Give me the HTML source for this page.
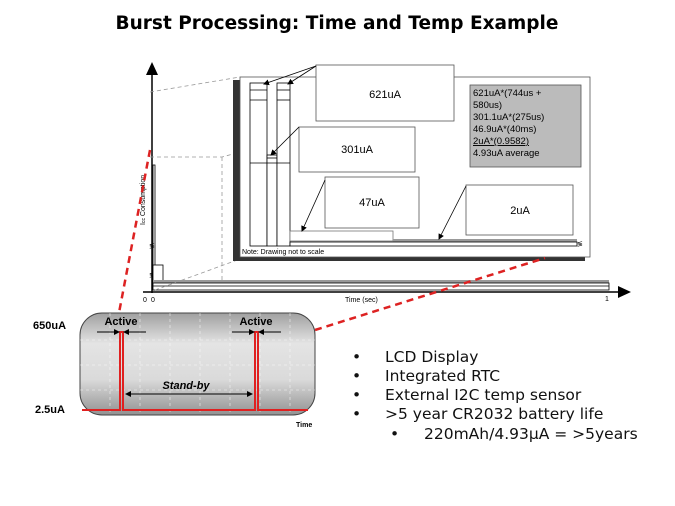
<!DOCTYPE html>
<html><head><style>
html,body{margin:0;padding:0;background:#fff;}
svg{display:block;font-family:"Liberation Sans",Arial,sans-serif;}
</style></head><body>
<svg width="675" height="506" viewBox="0 0 675 506" xmlns="http://www.w3.org/2000/svg">
<defs>
<linearGradient id="g" x1="0" y1="0" x2="0" y2="1">
<stop offset="0" stop-color="#a0a0a0"/><stop offset="0.3" stop-color="#e4e4e4"/><stop offset="0.65" stop-color="#dadada"/><stop offset="1" stop-color="#929292"/>
</linearGradient>
<marker id="s" markerWidth="6" markerHeight="6" refX="5" refY="3" orient="auto" markerUnits="userSpaceOnUse"><path d="M0,0 L6,3 L0,6 z" fill="#000"/></marker>
</defs>
<text x="337" y="29" text-anchor="middle" font-size="18.5" font-weight="bold" font-family="'DejaVu Sans',sans-serif">Burst Processing: Time and Temp Example</text>

<line x1="152" y1="72" x2="152" y2="293" stroke="#000" stroke-width="1.5"/>
<path d="M146,75 L152,62 L158,75 z" fill="#000"/>
<line x1="143" y1="292" x2="622" y2="292" stroke="#000" stroke-width="1.5"/>
<path d="M618,286 L631,292 L618,298 z" fill="#000"/>
<text x="143" y="302" font-size="7">0</text><text x="151" y="302" font-size="7">0</text>
<text x="605" y="301" font-size="7">1</text>
<text x="345" y="302" font-size="7">Time (sec)</text>
<text x="0" y="0" font-size="7" transform="translate(145,225) rotate(-90)">I<tspan font-size="5">cc</tspan> Consumption</text>
<rect x="153" y="165" width="2" height="125" fill="#fff" stroke="#000" stroke-width="0.8"/>
<text x="149" y="248" font-size="7">≶</text><text x="149" y="277" font-size="7">≶</text>
<rect x="153" y="265" width="10" height="17" fill="#fff" stroke="#000" stroke-width="0.8"/>
<rect x="153" y="280" width="456" height="3" fill="#999"/>
<rect x="153" y="283" width="456" height="7" fill="#fff" stroke="#000" stroke-width="0.8"/>
<line x1="153" y1="286" x2="609" y2="286" stroke="#000" stroke-width="0.8"/>

<g stroke="#999" stroke-width="0.8" stroke-dasharray="4,3" fill="none">
<path d="M150,157 L222,157 L233,154"/>
<line x1="222" y1="157" x2="222" y2="280"/>
<line x1="150" y1="92" x2="240" y2="77"/>
<line x1="155" y1="290" x2="240" y2="259"/>
</g>

<rect x="233" y="80" width="352" height="181" fill="#333"/>
<rect x="240" y="77" width="350" height="180" fill="#fff" stroke="#555" stroke-width="0.8"/>
<g stroke="#000" stroke-width="0.8" fill="#fff">
<rect x="250" y="83" width="17" height="163"/>
<rect x="267" y="155" width="10" height="91"/>
<rect x="277" y="83" width="13" height="163"/>
<line x1="250" y1="90" x2="267" y2="90"/><line x1="250" y1="100" x2="267" y2="100"/>
<line x1="277" y1="90" x2="290" y2="90"/><line x1="277" y1="100" x2="290" y2="100"/>
<line x1="250" y1="163" x2="290" y2="163"/><line x1="267" y1="158" x2="277" y2="158"/>
<rect x="290" y="231" width="103" height="10" stroke="#777"/>
<rect x="393" y="239" width="184" height="3" fill="#999" stroke="none"/>
<rect x="290" y="242" width="287" height="4"/>
</g>
<text x="577" y="246" font-size="7">≶</text>
<text x="242" y="254" font-size="7">Note: Drawing not to scale</text>

<g stroke="#555" stroke-width="0.8" fill="#fff">
<rect x="316" y="65" width="138" height="56"/>
<rect x="299" y="127" width="116" height="45"/>
<rect x="325" y="177" width="94" height="51"/>
<rect x="466" y="185" width="107" height="50"/>
</g>
<text x="385" y="98" font-size="11" text-anchor="middle">621uA</text>
<text x="357" y="153" font-size="11" text-anchor="middle">301uA</text>
<text x="372" y="206" font-size="11" text-anchor="middle">47uA</text>
<text x="520" y="214" font-size="11" text-anchor="middle">2uA</text>
<rect x="470" y="85" width="111" height="82" fill="#bbb" stroke="#555" stroke-width="0.8"/>
<g font-size="9.5">
<text x="473" y="96">621uA*(744us +</text>
<text x="473" y="108">580us)</text>
<text x="473" y="120">301.1uA*(275us)</text>
<text x="473" y="132">46.9uA*(40ms)</text>
<text x="473" y="144" text-decoration="underline">2uA*(0.9582)</text>
<text x="473" y="156">4.93uA average</text>
</g>
<g stroke="#000" stroke-width="0.8">
<line x1="316" y1="66" x2="264" y2="84" marker-end="url(#s)"/>
<line x1="316" y1="66" x2="288" y2="84" marker-end="url(#s)"/>
<line x1="299" y1="127" x2="271" y2="155" marker-end="url(#s)"/>
<line x1="325" y1="180" x2="302" y2="231" marker-end="url(#s)"/>
<line x1="466" y1="186" x2="439" y2="239" marker-end="url(#s)"/>
</g>

<g stroke="#d22" stroke-width="2.5" stroke-dasharray="7,5" fill="none">
<line x1="150" y1="150" x2="118" y2="318"/>
<line x1="315" y1="330" x2="545" y2="258"/>
</g>

<rect x="80" y="313" width="235" height="102" rx="22" fill="url(#g)" stroke="#444" stroke-width="1"/>
<g stroke="#fff" stroke-width="0.6" stroke-dasharray="3,3" opacity="0.8">
<line x1="80" y1="340" x2="315" y2="340"/><line x1="80" y1="365" x2="315" y2="365"/><line x1="80" y1="390" x2="315" y2="390"/>
<line x1="110" y1="313" x2="110" y2="415"/><line x1="140" y1="313" x2="140" y2="415"/><line x1="170" y1="313" x2="170" y2="415"/><line x1="200" y1="313" x2="200" y2="415"/><line x1="230" y1="313" x2="230" y2="415"/><line x1="260" y1="313" x2="260" y2="415"/><line x1="290" y1="313" x2="290" y2="415"/>
</g>
<path d="M82,410 L120,410 L120,332 L123,332 L123,410 L255,410 L255,332 L258,332 L258,410 L308,410" stroke="#e02020" stroke-width="2" fill="none"/>
<text x="33" y="329" font-size="11" font-weight="bold">650uA</text>
<text x="35" y="413" font-size="11" font-weight="bold">2.5uA</text>
<text x="121" y="325" font-size="11" font-weight="bold" text-anchor="middle">Active</text>
<text x="256" y="325" font-size="11" font-weight="bold" text-anchor="middle">Active</text>
<g stroke="#000" stroke-width="1">
<line x1="97" y1="332" x2="119" y2="332" marker-end="url(#s)"/>
<line x1="146" y1="332" x2="124" y2="332" marker-end="url(#s)"/>
<line x1="232" y1="332" x2="254" y2="332" marker-end="url(#s)"/>
<line x1="281" y1="332" x2="259" y2="332" marker-end="url(#s)"/>
<line x1="140" y1="394" x2="126" y2="394" marker-end="url(#s)"/>
<line x1="140" y1="394" x2="252" y2="394" marker-end="url(#s)"/>
</g>
<text x="186" y="389" font-size="11" font-weight="bold" font-style="italic" text-anchor="middle">Stand-by</text>
<text x="296" y="427" font-size="7" font-weight="bold">Time</text>

<g font-size="15.5" fill="#111" font-family="'DejaVu Sans',sans-serif">
<text x="352" y="362">•</text><text x="385" y="362">LCD Display</text>
<text x="352" y="381">•</text><text x="385" y="381">Integrated RTC</text>
<text x="352" y="400">•</text><text x="385" y="400">External I2C temp sensor</text>
<text x="352" y="419">•</text><text x="385" y="419">&gt;5 year CR2032 battery life</text>
<text x="390" y="439">•</text><text x="424" y="439">220mAh/4.93µA = &gt;5years</text>
</g>
</svg>
</body></html>
